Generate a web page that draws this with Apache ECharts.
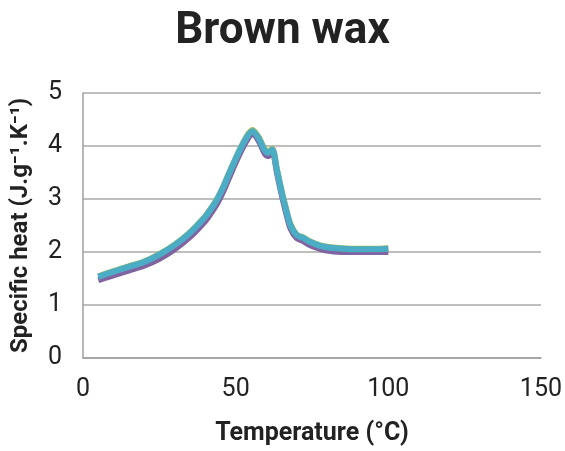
<!DOCTYPE html>
<html><head><meta charset="utf-8">
<script src="https://cdn.jsdelivr.net/npm/echarts@6/dist/echarts.min.js"></script>
<style>html,body{margin:0;padding:0;background:#fff}#c{width:565px;height:451px}</style>
</head><body><div id="c"></div>
<script>
const temps        = [5, 10, 15, 20, 25, 30, 35, 40, 42, 44, 46, 48, 51, 53.5, 55.5, 57.5, 59.5, 60.6, 62, 63.5, 65, 66.5, 68, 70, 72, 74, 76, 78, 81, 85, 90, 95, 100];
const seriesCyan   = [1.53, 1.63, 1.72, 1.81, 1.95, 2.13, 2.36, 2.66, 2.82, 3.0, 3.23, 3.5, 3.88, 4.15, 4.28, 4.15, 3.92, 3.87, 3.93, 3.55, 3.15, 2.8, 2.5, 2.32, 2.27, 2.2, 2.15, 2.11, 2.08, 2.06, 2.05, 2.05, 2.06];
const seriesPurple = [1.47, 1.56, 1.65, 1.74, 1.87, 2.05, 2.28, 2.58, 2.74, 2.92, 3.15, 3.42, 3.81, 4.09, 4.23, 4.1, 3.86, 3.81, 3.88, 3.5, 3.1, 2.74, 2.44, 2.26, 2.21, 2.14, 2.09, 2.05, 2.02, 2.0, 2.0, 2.0, 2.0];
const seriesGreen  = [1.54, 1.64, 1.73, 1.82, 1.96, 2.14, 2.37, 2.67, 2.83, 3.01, 3.24, 3.51, 3.89, 4.17, 4.3, 4.17, 3.94, 3.89, 3.95, 3.57, 3.17, 2.82, 2.52, 2.33, 2.28, 2.21, 2.16, 2.12, 2.09, 2.07, 2.06, 2.06, 2.07];
const xTicks = [0, 50, 100, 150];
const yTicks = [0, 1, 2, 3, 4, 5];

const toPts = v => temps.map((t, i) => [t, v[i]]);
const mk = (data, color, w) => ({
  type: 'line', data: toPts(data), smooth: 0.3, showSymbol: false,
  lineStyle: { color, width: w }, itemStyle: { color }, silent: true
});
const chart = echarts.init(document.getElementById('c'));
chart.setOption({
  animation: false,
  title: { text: 'Brown wax', left: 'center', top: 5,
    textStyle: { fontFamily: 'Roboto', fontWeight: 'bold', fontSize: 44, color: '#222' } },
  grid: { left: 83, right: 22, top: 93, bottom: 90 },
  xAxis: { type: 'value', min: xTicks[0], max: xTicks[xTicks.length - 1], interval: 50,
    name: 'Temperature (°C)', nameLocation: 'middle', nameGap: 63,
    nameTextStyle: { fontFamily: 'Roboto', fontWeight: 'bold', fontSize: 25, color: '#222' },
    axisLine: { lineStyle: { color: '#a0a0a0', width: 1.5 } }, axisTick: { show: false },
    axisLabel: { fontFamily: 'Roboto', fontSize: 25, color: '#222', margin: 19 },
    splitLine: { show: false } },
  yAxis: { type: 'value', min: yTicks[0], max: yTicks[yTicks.length - 1], interval: 1,
    name: 'Specific heat (J.g⁻¹.K⁻¹)', nameLocation: 'middle', nameGap: 50, nameRotate: 90,
    nameTextStyle: { fontFamily: 'Roboto', fontWeight: 'bold', fontSize: 24, color: '#222' },
    axisLine: { show: true, lineStyle: { color: '#a0a0a0', width: 1.5 } }, axisTick: { show: false },
    axisLabel: { fontFamily: 'Roboto', fontSize: 25, color: '#222', margin: 21 },
    splitLine: { lineStyle: { color: '#a8a8a8', width: 1.5 } } },
  series: [
    mk(seriesPurple, '#8064A2', 6),
    mk(seriesGreen, '#9BBB59', 6),
    mk(seriesCyan, '#4BACC6', 6)
  ]
});
</script></body></html>
